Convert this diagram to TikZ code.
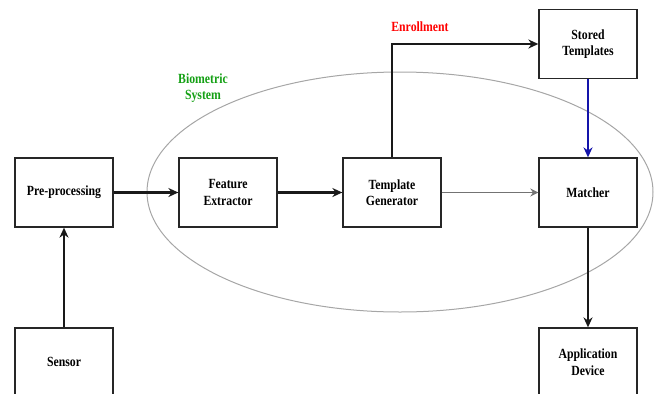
\documentclass[tikz,border=0pt]{standalone}
\usepackage{fontspec}
\setmainfont{Liberation Serif}[FakeStretch=0.84]
\usetikzlibrary{arrows.meta}
\begin{document}
\begin{tikzpicture}[x=1pt,y=-1pt,
  blk/.style={draw=black!85,line width=1.3pt,minimum width=98pt,minimum height=69pt,inner sep=0pt,align=center,font=\fontsize{14}{16.5}\selectfont\bfseries},
  flow/.style={line width=2.4pt,draw=black!90,-{Stealth[length=10pt,width=9pt]}},
  lbl/.style={font=\fontsize{14}{16.5}\selectfont\bfseries,align=center}]
\useasboundingbox (0,0) rectangle (654,394);
\begin{scope}
\clip (0,0) rectangle (654,394);
\draw[gray!70,line width=1pt] (400,192) ellipse [x radius=253, y radius=120];
\node[blk] (pre) at (64,192.5) {Pre-processing};
\node[blk] (fe) at (228,192.5) {Feature\\Extractor};
\node[blk] (tg) at (392,192.5) {Template\\Generator};
\node[blk] (ma) at (588,192.5) {Matcher};
\node[blk] (st) at (588,44) {Stored\\Templates};
\node[blk] (se) at (64,362.5) {};
\node[lbl] (setext) at (64,362) {Sensor};
\node[blk] (ad) at (588,362.5) {};
\node[lbl] (adtext) at (588,362) {Application\\Device};
\node[lbl,text={rgb,255:red,20;green,160;blue,20}] (bio) at (203,88) {Biometric\\System};
\node[lbl,text=red] (enr) at (420,27) {Enrollment};
\draw[flow] (se) -- (pre);
\draw[flow] (pre) -- (fe);
\draw[flow] (fe) -- (tg);
\draw[flow] (tg.north) |- (st.west);
\draw[line width=1.8pt,draw=black!55,-{Stealth[length=8pt,width=8pt]}] (tg) -- (ma);
\draw[line width=1.8pt,draw={rgb,255:red,20;green,20;blue,170},-{Stealth[length=10pt,width=9pt]}] (st) -- (ma);
\draw[flow] (ma) -- (ad);
\end{scope}
\end{tikzpicture}
\end{document}
